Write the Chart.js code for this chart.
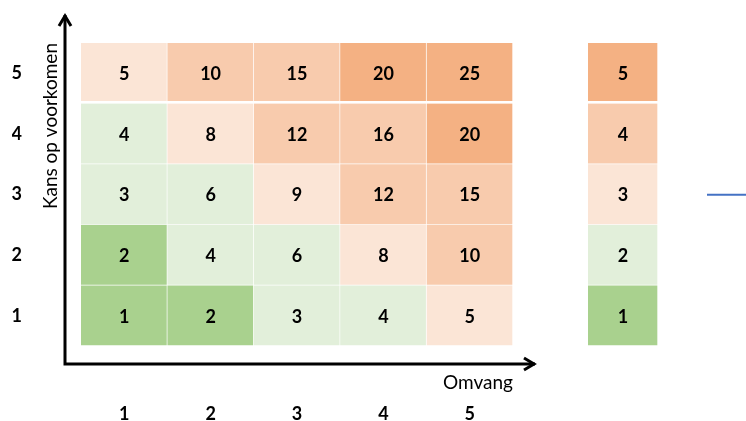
<!DOCTYPE html>
<html lang="nl">
<head>
<meta charset="utf-8">
<script src="https://cdn.jsdelivr.net/npm/chart.js@4"></script>
<style>
  html, body { margin: 0; padding: 0; background: #fff; }
  #wrap { position: relative; width: 746px; height: 421px; }
  #matrixBox { position: absolute; left: 0; top: 0; width: 746px; height: 421px; }
  #legendBox { position: absolute; left: 588px; top: 0; width: 70px; height: 421px; }
</style>
</head>
<body>
<div id="wrap">
  <div id="matrixBox"><canvas id="matrix"></canvas></div>
  <div id="legendBox"><canvas id="legend"></canvas></div>
</div>
<script>
// omvang (x) en kans op voorkomen (y)
const omvang = ['1', '2', '3', '4', '5'];
const kans = ['1', '2', '3', '4', '5'];

// risico = kans x omvang, per rij (kans 1 onderaan)
const risico = [
    [1, 2, 3, 4, 5],
    [2, 4, 6, 8, 10],
    [3, 6, 9, 12, 15],
    [4, 8, 12, 16, 20],
    [5, 10, 15, 20, 25]
];

// risicoklasse van elke cel (bepaalt de kleur)
const klasse = [
    [1, 1, 2, 2, 3],
    [1, 2, 2, 3, 4],
    [2, 2, 3, 4, 4],
    [2, 3, 4, 4, 5],
    [3, 4, 4, 5, 5]
];

// klassen in de losse kolom rechts
const klassen = [1, 2, 3, 4, 5];

const klasseKleur = ['#a9d18e', '#e2efda', '#fbe5d6', '#f8cbad', '#f4b183'];

Chart.defaults.font.family = 'Lato';
Chart.defaults.color = '#000';

function rowBorder(r) {
    // bovenste rij heeft een iets bredere witte rand eronder
    if (r === 4) {
        return { top: 0, left: 0, right: 1, bottom: 3 };
    }
    return { top: 0, left: 0, right: 1, bottom: 1 };
}

const celLabels = {
    id: 'celLabels',
    afterDatasetsDraw(chart) {
        const ctx = chart.ctx;
        ctx.save();
        ctx.font = 'bold 18px Lato';
        ctx.fillStyle = '#000';
        ctx.textAlign = 'center';
        ctx.textBaseline = 'middle';
        chart.data.datasets.forEach((ds, i) => {
            chart.getDatasetMeta(i).data.forEach((bar, j) => {
                const p = bar.getCenterPoint();
                ctx.fillText(ds.waarden[j], p.x, p.y + 1);
            });
        });
        ctx.restore();
    }
};

const pijlen = {
    id: 'pijlen',
    afterDraw(chart) {
        const ctx = chart.ctx;
        const area = chart.chartArea;
        const ox = area.left - 16;
        const oy = area.bottom + 18;
        const topY = area.top - 29;
        const rightX = area.right + 23;
        ctx.save();
        ctx.strokeStyle = '#000';
        ctx.lineWidth = 3;
        ctx.lineJoin = 'miter';
        ctx.beginPath();
        ctx.moveTo(ox, oy);
        ctx.lineTo(ox, topY + 1);
        ctx.moveTo(ox - 1.5, oy);
        ctx.lineTo(rightX - 1, oy);
        ctx.stroke();
        // pijlpunten
        ctx.beginPath();
        ctx.moveTo(ox - 6, topY + 12);
        ctx.lineTo(ox, topY + 2);
        ctx.lineTo(ox + 6, topY + 12);
        ctx.moveTo(rightX - 12, oy - 6);
        ctx.lineTo(rightX - 2, oy);
        ctx.lineTo(rightX - 12, oy + 6);
        ctx.stroke();
        // kort blauw lijntje rechts
        ctx.strokeStyle = '#4472c4';
        ctx.lineWidth = 2;
        ctx.beginPath();
        ctx.moveTo(chart.width - 39, 194.7);
        ctx.lineTo(chart.width, 194.7);
        ctx.stroke();
        ctx.restore();
    }
};

const matrixSets = kans.map((k, r) => ({
    data: omvang.map(() => [r, r + 1]),
    waarden: risico[r],
    backgroundColor: klasse[r].map(n => klasseKleur[n - 1]),
    borderColor: '#ffffff',
    borderWidth: rowBorder(r),
    borderSkipped: false,
    barPercentage: 1,
    categoryPercentage: 1
}));

new Chart(document.getElementById('matrix'), {
    type: 'bar',
    data: { labels: omvang, datasets: matrixSets },
    options: {
        responsive: true,
        maintainAspectRatio: false,
        animation: false,
        layout: { padding: { left: 12, top: 43, right: 233, bottom: 0 } },
        plugins: { legend: { display: false }, tooltip: { enabled: false } },
        scales: {
            x: {
                type: 'category',
                stacked: true,
                weight: 0,
                grid: { display: false, drawTicks: false },
                border: { display: false },
                ticks: { display: false },
                title: {
                    display: true,
                    text: 'Omvang',
                    align: 'end',
                    color: '#000',
                    font: { size: 19 },
                    padding: { top: 25, bottom: 0 }
                },
                afterFit(s) { s.height = 48; }
            },
            x2: {
                type: 'category',
                position: 'bottom',
                weight: 1,
                labels: omvang,
                offset: true,
                grid: { display: false, drawTicks: false },
                border: { display: false },
                ticks: { font: { size: 18, weight: 'bold' }, padding: 9 },
                afterFit(s) { s.height = 27; }
            },
            y: {
                type: 'linear',
                stacked: false,
                min: 0,
                max: 5,
                weight: 0,
                grid: { display: false, drawTicks: false },
                border: { display: false },
                ticks: { display: false },
                title: {
                    display: true,
                    text: 'Kans op voorkomen',
                    align: 'end',
                    color: '#000',
                    font: { size: 19 },
                    padding: { top: 0, bottom: 20 }
                },
                afterFit(s) { s.width = 42; }
            },
            y2: {
                type: 'category',
                position: 'left',
                weight: 1,
                labels: kans.slice().reverse(),
                offset: true,
                grid: { display: false, drawTicks: false },
                border: { display: false },
                ticks: { font: { size: 18, weight: 'bold' }, padding: 17 },
                afterFit(s) { s.width = 27; }
            }
        }
    },
    plugins: [celLabels, pijlen]
});

const legendSets = klassen.map((k, r) => ({
    data: [[r, r + 1]],
    waarden: [k],
    backgroundColor: klasseKleur[k - 1],
    borderColor: '#ffffff',
    borderWidth: rowBorder(r),
    borderSkipped: false,
    barPercentage: 1,
    categoryPercentage: 1
}));

new Chart(document.getElementById('legend'), {
    type: 'bar',
    data: { labels: ['klasse'], datasets: legendSets },
    options: {
        responsive: true,
        maintainAspectRatio: false,
        animation: false,
        layout: { padding: { left: 0, top: 43, right: 0, bottom: 75 } },
        plugins: { legend: { display: false }, tooltip: { enabled: false } },
        scales: {
            x: { display: false, stacked: true },
            y: { display: false, stacked: false, min: 0, max: 5 }
        }
    },
    plugins: [celLabels]
});
</script>
</body>
</html>
